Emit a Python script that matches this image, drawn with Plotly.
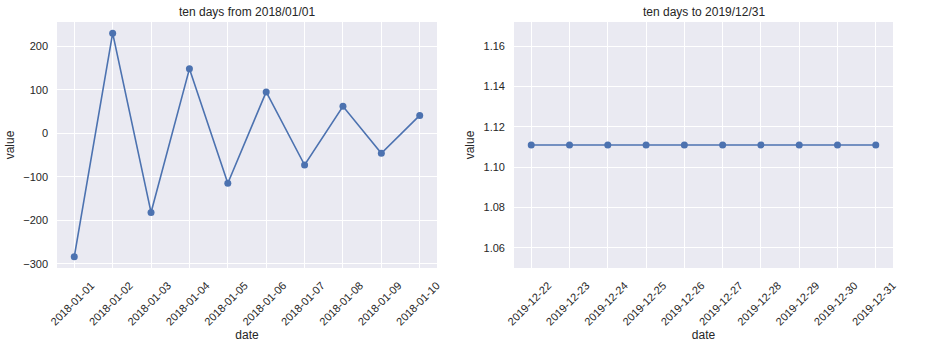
import pandas as pd
import plotly.graph_objects as go
from plotly.subplots import make_subplots

# ---- data ----
dates_from = pd.date_range("2018-01-01", periods=10, freq="D")
values_from = [-284, 230, -182, 148, -115, 95, -73, 62, -46, 41]

dates_to = pd.date_range("2019-12-22", periods=10, freq="D")
values_to = [1.111] * 10

title_from = "ten days from 2018/01/01"
title_to = "ten days to 2019/12/31"
yticks_from = [-300, -200, -100, 0, 100, 200]
yticks_to = [1.06, 1.08, 1.10, 1.12, 1.14, 1.16]

# ---- style ----
LINE = "#4C72B0"
BG = "#EAEAF2"
TXT = "#262626"
FONT = "Liberation Sans"
W, H = 925, 347


def pad_dates(d, frac=0.05):
    span = d[-1] - d[0]
    return [d[0] - span * frac, d[-1] + span * frac]


def pad_values(v, frac=0.05):
    lo, hi = min(v), max(v)
    if hi == lo:
        lo, hi = lo - abs(lo) * 0.05, hi + abs(hi) * 0.05
    span = hi - lo
    return [lo - span * frac, hi + span * frac]


fig = make_subplots(rows=1, cols=2)

for col, (d, v) in enumerate([(dates_from, values_from), (dates_to, values_to)], start=1):
    fig.add_trace(
        go.Scatter(
            x=d, y=v, mode="lines+markers",
            line=dict(color=LINE, width=1.6),
            marker=dict(color=LINE, size=7),
            showlegend=False,
        ),
        row=1, col=col,
    )

# plot-area geometry in pixels
y_top, y_bot = 22, 268
dom_y = [1 - y_bot / H, 1 - y_top / H]
dom_x1 = [57 / W, 437 / W]
dom_x2 = [514 / W, 893 / W]

axis_common = dict(
    showgrid=True, gridcolor="white", gridwidth=1,
    zeroline=False, showline=False, ticks="",
    tickfont=dict(family=FONT, size=11, color=TXT),
    automargin=False,
)

fig.update_xaxes(
    **axis_common,
    tickformat="%Y-%m-%d", dtick=86400000, tickangle=-45,
    ticklabelshift=17, ticklabelstandoff=8,
    title=dict(text="date", font=dict(family=FONT, size=12, color=TXT), standoff=2),
)
fig.update_yaxes(
    **axis_common,
    ticklabelstandoff=8,
    title=dict(text="value", font=dict(family=FONT, size=12, color=TXT), standoff=6),
)

fig.update_layout(
    xaxis=dict(domain=dom_x1, range=pad_dates(dates_from)),
    xaxis2=dict(domain=dom_x2, range=pad_dates(dates_to)),
    yaxis=dict(domain=dom_y, range=pad_values(values_from), tickvals=yticks_from),
    yaxis2=dict(domain=dom_y, range=pad_values(values_to), tickvals=yticks_to,
                tickformat=".2f"),
    width=W, height=H,
    margin=dict(l=0, r=0, t=0, b=0),
    paper_bgcolor="white",
    plot_bgcolor=BG,
    font=dict(family=FONT, color=TXT),
)

for dom, text in [(dom_x1, title_from), (dom_x2, title_to)]:
    fig.add_annotation(
        text=text, xref="paper", yref="paper",
        x=(dom[0] + dom[1]) / 2, y=1 - 12 / H,
        xanchor="center", yanchor="middle", showarrow=False,
        font=dict(family=FONT, size=12, color=TXT),
    )

fig.write_html("out.html")
